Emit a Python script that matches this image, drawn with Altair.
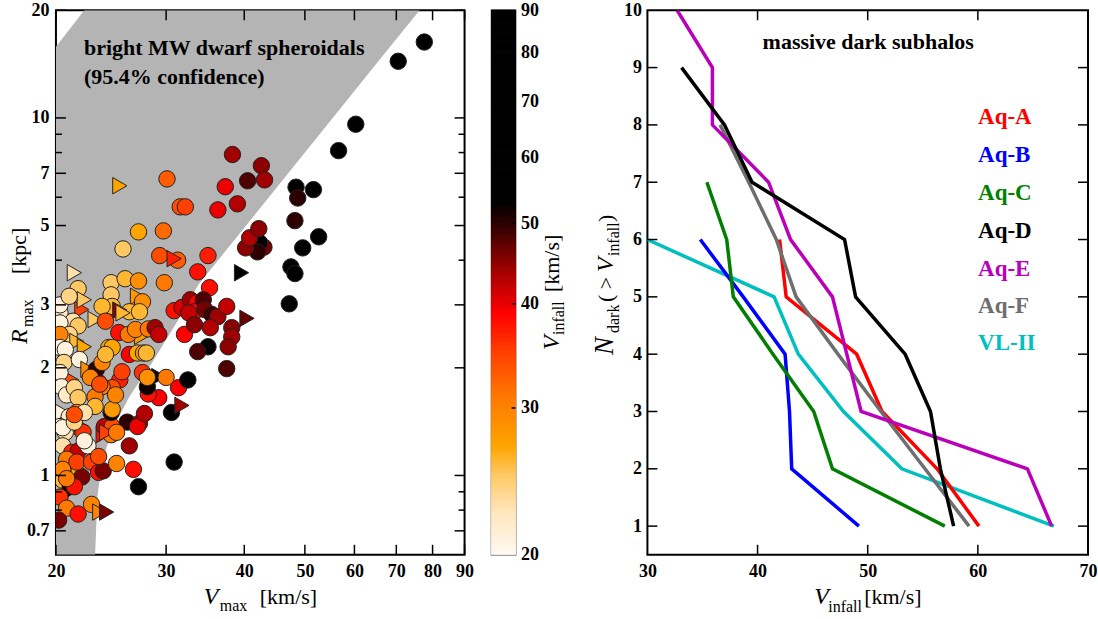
import altair as alt
import numpy as np
import pandas as pd

FONT = "Liberation Serif"

# ---------------- left panel: subhalo scatter ----------------
vmax = [77.6, 70.5, 60.3, 56.6, 48.4, 51.6, 48.7, 48.2, 52.6, 49.6,
        47.5, 48.2, 47.2, 39.6, 43.0, 42.3, 42.0, 40.2, 40.8, 42.2,
        38.3, 42.6, 43.1, 40.5, 37.3, 39.0, 36.3, 30.1, 31.6, 32.2,
        25.3, 27.1, 29.7, 25.6, 29.3, 31.3, 30.9, 35.0, 33.7, 35.2,
        29.8, 21.4, 21.7, 24.5, 25.8, 27.1, 24.5, 27.0, 27.5, 24.6,
        23.7, 26.2, 27.2, 25.3, 25.6, 22.0, 20.3, 20.3, 22.2, 21.0,
        21.3, 21.7, 23.1, 24.0, 20.3, 21.0, 21.6, 22.2, 20.3, 20.3,
        20.7, 20.6, 21.8, 22.5, 21.2, 20.3, 20.4, 20.8, 21.4, 21.7,
        20.5, 21.0, 21.6, 22.0, 22.1, 20.7, 20.3, 20.5, 21.2, 21.7,
        22.5, 20.8, 20.3, 20.5, 21.7, 22.0, 21.6, 21.0, 21.4, 20.3,
        20.8, 21.7, 20.2, 22.8, 23.5, 24.1, 22.8, 23.4, 23.8, 23.4,
        23.8, 23.9, 24.5, 24.6, 24.5, 24.6, 26.0, 27.2, 27.0, 27.7,
        26.2, 25.0, 26.6, 27.1, 30.9, 30.6, 31.8, 29.2, 28.1, 28.0,
        31.4, 32.5, 29.2, 30.0, 27.5, 28.0, 25.3, 25.5, 24.6, 23.7,
        23.1, 23.4, 23.2, 22.7, 23.7, 24.3, 24.6, 24.0, 26.2, 27.0,
        27.6, 27.4, 25.2, 26.1, 26.8, 28.1, 28.8, 29.2, 32.1, 30.9,
        31.8, 32.8, 33.6, 33.3, 32.6, 34.4, 34.6, 35.5, 36.3, 37.5,
        33.3, 35.3, 38.2, 38.2, 40.4, 35.0, 33.7, 37.7, 37.5, 20.5,
        21.4, 22.2, 20.5, 20.8, 24.1, 25.0, 23.1, 24.9, 22.2, 21.4,
        27.9, 23.5]
rmax = [16.3, 14.4, 9.6, 8.1, 6.4, 6.3, 5.97, 5.16, 4.65, 4.33,
        3.83, 3.67, 3.02, 3.69, 4.35, 4.48, 4.22, 4.33, 4.62, 4.90,
        7.90, 7.35, 6.71, 6.67, 6.42, 5.75, 5.53, 6.75, 5.64, 5.64,
        6.46, 4.80, 4.83, 4.30, 4.12, 4.00, 4.04, 4.12, 3.71, 3.35,
        3.46, 3.69, 3.33, 3.46, 3.55, 3.50, 3.20, 3.17, 3.06, 2.97,
        2.97, 2.87, 2.87, 2.90, 2.85, 2.91, 2.85, 3.00, 3.10, 3.17,
        2.70, 2.62, 2.73, 2.70, 2.67, 2.48, 2.37, 2.29, 2.48, 2.28,
        2.25, 2.07, 2.11, 1.98, 1.85, 1.94, 1.77, 1.68, 1.76, 1.65,
        1.50, 1.46, 1.50, 1.37, 1.32, 1.32, 1.37, 1.21, 1.16, 1.17,
        1.21, 1.11, 1.02, 0.97, 1.04, 0.99, 1.09, 0.90, 0.93, 0.87,
        0.81, 0.78, 0.75, 0.83, 0.79, 0.79, 1.09, 1.02, 1.03, 1.13,
        1.30, 1.37, 1.30, 1.37, 1.50, 1.53, 1.41, 1.40, 1.37, 1.49,
        1.21, 1.08, 1.04, 0.93, 1.09, 1.50, 1.57, 1.65, 1.69, 1.77,
        1.76, 1.85, 1.89, 1.88, 1.94, 1.88, 1.85, 1.95, 1.76, 1.77,
        1.66, 1.82, 1.98, 1.88, 2.07, 2.28, 2.28, 2.18, 2.18, 2.20,
        2.20, 2.45, 2.51, 2.48, 2.56, 2.57, 2.59, 2.48, 2.48, 2.89,
        2.95, 3.10, 3.04, 2.87, 2.85, 3.10, 2.91, 2.82, 2.78, 2.97,
        2.64, 2.59, 2.59, 2.44, 2.75, 2.29, 2.22, 2.29, 1.99, 1.36,
        1.41, 1.25, 1.04, 0.98, 1.32, 1.32, 1.56, 1.68, 1.50, 1.48,
        2.20, 1.80]
vinfall = [85, 80, 72, 66, 58, 62, 50, 50, 60, 58,
           56, 56, 58, 60, 46, 56, 50, 45, 43, 45,
           44, 45, 44, 48, 40, 43, 40, 33, 34, 35,
           27, 27, 32, 25, 34, 33, 37, 37, 38, 38,
           31, 23, 25, 25, 26, 29, 25, 28, 29, 26,
           26, 26, 26, 45, 26, 35, 22, 21, 25, 24,
           23, 25, 25, 34, 21, 24, 26, 27, 30, 21,
           21, 24, 21, 29, 34, 21, 21, 22, 24, 25,
           21, 22, 29, 28, 36, 23, 21, 23, 37, 42,
           21, 31, 21, 26, 27, 46, 35, 60, 38, 36,
           31, 38, 46, 30, 30, 46, 35, 38, 46, 34,
           38, 42, 31, 34, 52, 28, 50, 44, 40, 43,
           44, 30, 38, 60, 62, 60, 44, 39, 38, 52,
           39, 58, 58, 31, 36, 29, 37, 35, 34, 31,
           31, 35, 50, 30, 30, 27, 27, 26, 39, 27,
           28, 28, 38, 31, 30, 31, 44, 42, 39, 38,
           41, 44, 39, 39, 42, 48, 46, 49, 44, 42,
           45, 43, 45, 44, 47, 58, 48, 45, 48, 21,
           24, 21, 30, 31, 35, 31, 26, 30, 23, 34,
           26, 34]
# positions (in the lists above) of the subhalos drawn as triangles
triangle_idx = [13, 30, 36, 41, 47, 53, 54, 55, 58, 62, 66, 67, 73, 74, 80,
                83, 94, 97, 104, 105, 110, 126, 132, 151, 174, 184]

# grey 95.4% confidence region of bright MW dSphs
band_r = [0.6, 0.874, 1.09, 1.34, 1.66, 2.07, 2.73, 3.42, 15.8, 20.0]
band_vlo = [20, 20, 20, 20, 20, 20, 20, 20, 20, 22.2]
band_vhi = [23.1, 23.3, 23.7, 24.6, 26.2, 28.5, 31.4, 33.8, 68.4, 76.3]

x_ticks_left = [20, 30, 40, 50, 60, 70, 80, 90]
y_major_left = [0.7, 1, 2, 3, 5, 7, 10, 20]
y_minor_left = [0.8, 0.9, 4, 6, 8, 9]

# colour map of V_infall
cmap_dom = [20, 22.5, 25, 27, 31, 35, 39, 44, 49, 53, 90]
cmap_rng = ["#fffaf2", "#ffe6bd", "#ffc862", "#ffa500", "#ff7800", "#ff4000",
            "#ff0000", "#a00000", "#3c0000", "#000000", "#000000"]
cbar_ticks = [20, 30, 40, 50, 60, 70, 80, 90]

# ---------------- right panel: massive dark subhalos ----------------
series_names = ["VL-II", "Aq-B", "Aq-C", "Aq-A", "Aq-F", "Aq-E", "Aq-D"]
series_colors = ["#00bfbf", "#0000ff", "#007f00", "#ff0000", "#6e6e6e", "#bb00bb", "#000000"]
aq_a = [60.1, 56.3, 51.3, 49.0, 42.6, 42.0]
aq_b = [49.2, 43.1, 42.9, 42.5, 38.7, 34.8]
aq_c = [57.0, 46.8, 45.1, 41.4, 37.8, 37.2, 35.4]
aq_d = [57.8, 56.6, 55.7, 53.4, 48.9, 47.9, 39.5, 37.0, 33.1]
aq_e = [66.7, 64.5, 49.4, 48.1, 46.8, 43.0, 41.0, 35.9, 35.9, 32.7]
aq_f = [59.2, 55.2, 51.2, 47.3, 43.5, 41.7, 39.2, 36.6]
vl_2 = [66.9, 53.1, 47.8, 43.7, 41.5, 30.0]
legend_order = ["Aq-A", "Aq-B", "Aq-C", "Aq-D", "Aq-E", "Aq-F", "VL-II"]

# ---------------- build tables ----------------
pts = pd.DataFrame({"vmax": vmax, "rmax": rmax, "vinf": vinfall})
tri = set(triangle_idx)
pts["m"] = ["t" if i in tri else "c" for i in range(len(pts))]
band = pd.DataFrame({"r": band_r, "lo": band_vlo, "hi": band_vhi})

series_vals = {"Aq-A": aq_a, "Aq-B": aq_b, "Aq-C": aq_c, "Aq-D": aq_d,
               "Aq-E": aq_e, "Aq-F": aq_f, "VL-II": vl_2}
rows = []
for name in series_names:
    for i, v in enumerate(series_vals[name]):
        rows.append({"s": name, "v": v, "n": i + 1})
lines_df = pd.DataFrame(rows)
col_of = dict(zip(series_names, series_colors))

LW, LH = 409, 545
CW = 24
RW, RH = 441, 545
GAP = 27
SPACER = 646 - 54 - LW - GAP - CW - GAP - GAP  # keeps right panel at x=646

frame = alt.ViewBackground(stroke="black", strokeWidth=2, strokeOpacity=1)
noframe = alt.ViewBackground(strokeOpacity=0)

xs_l = alt.Scale(type="log", domain=[20, 90], nice=False)
ys_l = alt.Scale(type="log", domain=[0.6, 20], nice=False)
fill_scale = alt.Scale(type="log", domain=cmap_dom, range=cmap_rng, interpolate="rgb")

ax_x_l = alt.Axis(values=x_ticks_left, format="d", title=None, labelPadding=8, labelFlush=False)
ax_y_l = alt.Axis(values=y_major_left, format="~g", title=None, labelPadding=7, labelFlush=False)


def txt(s, x, y, size, weight="normal", style="normal", color="black",
        angle=0, align="left"):
    return alt.Chart(pd.DataFrame({"a": [0]})).mark_text(
        text=s, font=FONT, fontSize=size, fontWeight=weight, fontStyle=style,
        color=color, angle=angle, align=align, baseline="alphabetic"
    ).encode(x=alt.value(x), y=alt.value(y))


def yticks(vals, scale, axis, length, width):
    base = alt.Chart(pd.DataFrame({"v": vals})).mark_rule(color="black", strokeWidth=1.5)
    y = alt.Y("v:Q", scale=scale, axis=axis)
    return [base.encode(y=y, x=alt.value(0), x2=alt.value(length)),
            base.encode(y=y, x=alt.value(width - length), x2=alt.value(width))]


def xticks(vals, scale, axis, length, height):
    base = alt.Chart(pd.DataFrame({"v": vals})).mark_rule(color="black", strokeWidth=1.5)
    x = alt.X("v:Q", scale=scale, axis=axis)
    return [base.encode(x=x, y=alt.value(height - length), y2=alt.value(height)),
            base.encode(x=x, y=alt.value(0), y2=alt.value(length))]


area = alt.Chart(band).mark_area(orient="horizontal", color="#b4b4b4", clip=True).encode(
    y=alt.Y("r:Q", scale=ys_l, axis=ax_y_l),
    x=alt.X("lo:Q", scale=xs_l, axis=ax_x_l),
    x2="hi:Q",
)
scatter = alt.Chart(pts).mark_point(
    filled=True, size=270, opacity=1, stroke="#222222", strokeWidth=1, clip=True
).encode(
    x=alt.X("vmax:Q", scale=xs_l, axis=ax_x_l),
    y=alt.Y("rmax:Q", scale=ys_l, axis=ax_y_l),
    fill=alt.Fill("vinf:Q", scale=fill_scale, legend=None),
    shape=alt.Shape("m:N", scale=alt.Scale(domain=["c", "t"], range=["circle", "triangle-right"]), legend=None),
)

left_layers = [area, scatter]
left_layers += yticks(y_major_left, ys_l, ax_y_l, 10, LW)
left_layers += yticks(y_minor_left, ys_l, ax_y_l, 6, LW)
left_layers += xticks(x_ticks_left, xs_l, ax_x_l, 10, LH)
left_layers += [
    txt("bright MW dwarf spheroidals", 28, 45, 22, weight="bold"),
    txt("(95.4% confidence)", 28, 74, 22, weight="bold"),
    txt("V", 148, 594, 24, style="italic"),
    txt("max", 164, 601, 16),
    txt("[km/s]", 204, 594, 22),
    txt("R", -29, 334, 24, style="italic", angle=270),
    txt("max", -23, 317, 16, angle=270),
    txt("[kpc]", -30, 264, 22, angle=270),
]
left = alt.layer(*left_layers).properties(width=LW, height=LH, view=frame)

# ---------------- colour bar ----------------
edges = np.geomspace(20, 90, 201)
cb_df = pd.DataFrame({"lo": edges[:-1], "hi": edges[1:], "mid": np.sqrt(edges[:-1] * edges[1:])})
cb_scale = alt.Scale(type="log", domain=[20, 90], nice=False)
cb_axis = alt.Axis(orient="right", values=cbar_ticks, format="d", title=None, labelPadding=5, labelFlush=False)
cbar = alt.Chart(cb_df).mark_rect().encode(
    y=alt.Y("lo:Q", scale=cb_scale, axis=cb_axis),
    y2="hi:Q",
    x=alt.value(0), x2=alt.value(CW),
    fill=alt.Fill("mid:Q", scale=fill_scale, legend=None),
    stroke=alt.Stroke("mid:Q", scale=fill_scale, legend=None),
)
cb_ticks = alt.Chart(pd.DataFrame({"v": cbar_ticks[1:-1]})).mark_rule(color="black", strokeWidth=1.5).encode(
    y=alt.Y("v:Q", scale=cb_scale, axis=cb_axis), x=alt.value(CW - 4), x2=alt.value(CW))
cb = alt.layer(
    cbar, cb_ticks,
    txt("V", 68, 340, 24, style="italic", angle=270),
    txt("infall", 73, 325, 16, angle=270),
    txt("[km/s]", 68, 282, 22, angle=270),
).properties(width=CW, height=LH,
             view=alt.ViewBackground(stroke="black", strokeWidth=1.5, strokeOpacity=1))

spacer = alt.Chart(pd.DataFrame({"a": [0]})).mark_point(opacity=0).encode(
    x=alt.value(0), y=alt.value(0)
).properties(width=SPACER, height=LH, view=noframe)

# ---------------- right panel ----------------
xs_r = alt.Scale(domain=[30, 70], nice=False)
ys_r = alt.Scale(domain=[0.5, 10], nice=False)
ax_x_r = alt.Axis(values=[30, 40, 50, 60, 70], title=None, labelPadding=8, labelFlush=False)
ax_y_r = alt.Axis(values=list(range(1, 11)), title=None, labelPadding=6, labelFlush=False)

lines = alt.Chart(lines_df).mark_line(strokeWidth=3.5, clip=True).encode(
    x=alt.X("v:Q", scale=xs_r, axis=ax_x_r),
    y=alt.Y("n:Q", scale=ys_r, axis=ax_y_r),
    color=alt.Color("s:N", scale=alt.Scale(domain=series_names, range=series_colors), legend=None),
    order="n:Q",
)
right_layers = [lines]
right_layers += yticks(list(range(1, 10)), ys_r, ax_y_r, 10, RW)
right_layers += xticks([40, 50, 60], xs_r, ax_x_r, 10, RH)
right_layers.append(txt("massive dark subhalos", 221, 39, 22, weight="bold", align="center"))
leg_y = [114, 152, 190, 228, 266, 303, 340]
for name, yy in zip(legend_order, leg_y):
    right_layers.append(txt(name, 331, yy, 23, weight="bold", color=col_of[name]))
right_layers += [
    txt("V", 167, 594, 24, style="italic"),
    txt("infall", 181, 602, 16),
    txt("[km/s]", 217, 594, 22),
    txt("N", -34, 345, 27, style="italic", angle=270),
    txt("dark", -28, 323, 16, angle=270),
    txt("( >", -34, 292, 22, angle=270),
    txt("V", -34, 262, 24, style="italic", angle=270),
    txt("infall", -28, 246, 16, angle=270),
    txt(")", -34, 212, 22, angle=270),
]
right = alt.layer(*right_layers).properties(width=RW, height=RH, view=frame)

chart = alt.hconcat(left, cb, spacer, right, spacing=GAP, bounds="flush").properties(
    padding={"left": 7, "top": 0, "right": 0, "bottom": 0}
).configure(font=FONT).configure_view(strokeOpacity=0).configure_axis(
    labelFont=FONT, labelFontSize=18, labelFontWeight="bold", labelColor="black",
    tickSize=0, domain=False, grid=False,
)

chart.save("out.html", embed_options={"renderer": "svg", "actions": False})
